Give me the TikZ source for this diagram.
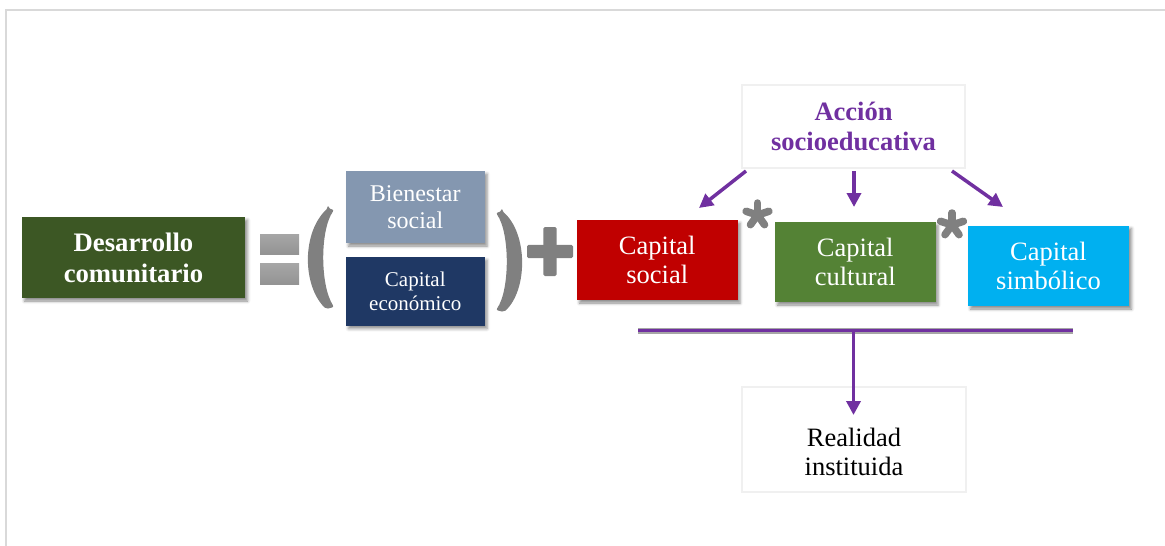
\documentclass[tikz,border=0pt]{standalone}
\usepackage{fontspec}
\setmainfont{Liberation Serif}
\usetikzlibrary{arrows.meta,shadows.blur}
\definecolor{dgreen}{HTML}{3C5724}
\definecolor{bgray}{HTML}{8497B0}
\definecolor{dblue}{HTML}{1F3864}
\definecolor{cred}{HTML}{C00000}
\definecolor{cgreen}{HTML}{548235}
\definecolor{cblue}{HTML}{00B0F0}
\definecolor{purp}{HTML}{7030A0}
\definecolor{symgray}{HTML}{808080}
\definecolor{linegray}{HTML}{A6A6A6}
\definecolor{framegray}{HTML}{D9D9D9}
\definecolor{boxline}{HTML}{F0F0F0}
\tikzset{
  cbox/.style={draw=none, inner sep=0pt, align=center, text=white,
    font=\fontsize{26.5}{29}\selectfont,
    blur shadow={shadow xshift=2.5pt, shadow yshift=-3pt, shadow blur radius=3pt, shadow opacity=45}},
  wbox/.style={draw=boxline, line width=2pt, fill=white, inner sep=0pt, align=center},
  parrow/.style={-{Triangle[length=14pt,width=14pt]}, line width=3.5pt, draw=purp},
  astarm/.style={line width=7.5pt, line cap=round, draw=symgray},
}
\begin{document}
\begin{tikzpicture}[x=1pt,y=-1pt]
\useasboundingbox (0,0) rectangle (1165,546);
% frame
\draw[framegray, line width=2pt] (6,546) -- (6,10) -- (1165,10);

% left part
\node[cbox, fill=dgreen, minimum width=223pt, minimum height=81pt,
  font=\fontsize{26.7}{31}\selectfont\bfseries] (des) at (133.5,257.5) {Desarrollo\\comunitario};

% equals sign
\shade[top color=symgray!70!white, bottom color=symgray!85!white] (260,234) rectangle (299,254.5);
\shade[top color=symgray!70!white, bottom color=symgray!85!white] (260,263.6) rectangle (299,284.5);

% parentheses
\fill[symgray, rounded corners=2pt] (328,208) -- (334,210) .. controls (320,230) and (320,285) .. (334,307)
  -- (326,309) .. controls (302,285) and (302,232) .. (328,208) -- cycle;
\fill[symgray, rounded corners=2pt] (502,211) -- (496,213) .. controls (510,233) and (510,290) .. (496,310)
  -- (504,312) .. controls (528,290) and (528,233) .. (502,211) -- cycle;

\node[cbox, fill=bgray, minimum width=138.5pt, minimum height=72pt,
  font=\fontsize{24}{27.5}\selectfont] (bien) at (415.25,207) {Bienestar\\social};
\node[cbox, fill=dblue, minimum width=138.5pt, minimum height=68.6pt,
  font=\fontsize{21}{23.5}\selectfont] (eco) at (415.25,291.3) {Capital\\económico};

% plus sign
\fill[symgray, rounded corners=1.5pt] (527,244.8) rectangle (573,258.2);
\fill[symgray, rounded corners=1.5pt] (543.3,227) rectangle (556.7,276);

% capitals
\node[cbox, fill=cred, minimum width=160.5pt, minimum height=80pt] (csoc) at (657.25,260) {Capital\\social};
\node[cbox, fill=cgreen, minimum width=160.5pt, minimum height=80pt] (ccul) at (855.25,262) {Capital\\cultural};
\node[cbox, fill=cblue, minimum width=161pt, minimum height=80.5pt] (csim) at (1048.5,265.75) {Capital\\simbólico};

% asterisks
\foreach \cx/\cy in {757.5/215, 952/225}{
  \foreach \ang in {90,18,162,234,306}{
    \draw[astarm] (\cx,\cy) -- ++({12*cos(\ang)},{-12*sin(\ang)});
  }
}

% Acción socioeducativa
\node[wbox, minimum width=223pt, minimum height=83pt, text=purp,
  font=\fontsize{26.5}{30}\selectfont\bfseries] (acc) at (853.5,126.5) {Acción\\socioeducativa};

\coordinate (a1s) at (746,171);
\coordinate (a1e) at (699,208);
\coordinate (a2s) at (854,171);
\coordinate (a2e) at (854,207);
\coordinate (a3s) at (952,171);
\coordinate (a3e) at (1003,207);
\draw[parrow] (a1s) -- (a1e);
\draw[parrow] (a2s) -- (a2e);
\draw[parrow] (a3s) -- (a3e);

% Realidad instituida
\node[wbox, minimum width=224pt, minimum height=105pt] (rea) at (854,439.5) {};
\node[inner sep=0pt, align=center, text=black, font=\fontsize{26.5}{28.3}\selectfont] (reat) at (854,452) {Realidad\\instituida};

% horizontal bar
\coordinate (hl) at (638,330.5);
\coordinate (hr) at (1073,330.5);
\coordinate (hm) at (853.5,330.5);
\coordinate (hd) at (853.5,415);
\draw[linegray, line width=6pt] (hl) -- (hr);
\draw[purp, line width=3.5pt] (hl) -- (hr);
\draw[parrow] (hm) -- (hd);
\end{tikzpicture}
\end{document}
